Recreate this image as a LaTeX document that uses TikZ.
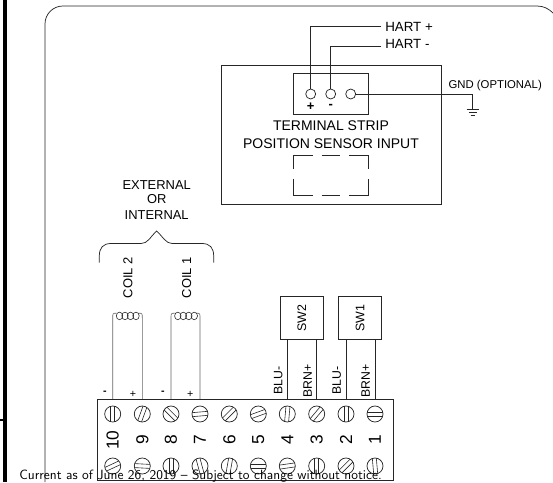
\documentclass[tikz,border=0pt]{standalone}
\usepackage{fontspec}
\setmainfont{Liberation Sans}
\tikzset{
  wire/.style={line width=.55pt,black!85},
  thin wire/.style={line width=.45pt,black!60},
  pin/.style={circle,draw,wire,minimum size=7.5pt,inner sep=0},
  screw/.style={circle,draw,wire,minimum size=12pt,inner sep=0},
  swbox/.style={draw,wire,minimum width=32pt,minimum height=32pt,inner sep=0,text=black},
  big/.style={inner sep=0,font=\fontsize{10.5}{13}\selectfont},
  mid/.style={inner sep=0,font=\fontsize{9.7}{12}\selectfont},
  small/.style={inner sep=0,font=\fontsize{9.2}{11}\selectfont},
  num/.style={inner sep=0,font=\fontsize{13}{15}\selectfont},
}
\begin{document}
\begin{tikzpicture}[x=.75pt,y=-.75pt]
  \useasboundingbox (0,0) rectangle (553,482);
  \draw[line width=2.6pt] (5,0) -- (5,482);
  \draw[line width=1.6pt] (0,420) -- (5,420);
  \draw[wire] (45,482) -- (45,24) .. controls (45,14) and (53,6) .. (63,6) -- (537,6) .. controls (544,6) and (549,9) .. (553,13);
  \node (sensor) at (331,134.5) [draw,wire,minimum width=165pt,minimum height=104.25pt] {};
  \node (tstrip) at (330.7,94) [draw,wire,minimum width=56pt,minimum height=31pt] {};
  \node (pp) at (310.7,94) [pin] {};
  \node (pm) at (330.7,94) [pin] {};
  \node (pg) at (350.7,94) [pin] {};
  \node (hp) at (385,26.5) [big,anchor=west,font=\fontsize{10}{12}\selectfont] {HART +};
  \node (hm) at (385,43.5) [big,anchor=west,font=\fontsize{10}{12}\selectfont] {HART -};
  \coordinate (hpe) at (380.7,26);
  \coordinate (hme) at (380.7,46.7);
  \coordinate (gnd) at (472.7,108.5);
  \draw[wire] (pp.north) |- (hpe);
  \draw[wire] (pm.north) |- (hme);
  \draw[wire] (pg.east) -| (gnd);
  \draw[wire] (466.7,109) -- (478.7,109) (468.7,112) -- (476.7,112) (470.7,115) -- (474.7,115);
  \node (gl) at (495.2,86) [small,font=\fontsize{8.5}{10}\selectfont] {GND (OPTIONAL)};
  \node (plus) at (310.7,107) [mid,font=\bfseries\fontsize{9.7}{12}\selectfont] {+};
  \node (minus) at (330.7,106.5) [mid,font=\bfseries\fontsize{9.7}{12}\selectfont] {-};
  \node (ts) at (331,126) [big] {TERMINAL STRIP};
  \node (pi) at (331,144) [big] {POSITION SENSOR INPUT};
  \draw[wire] (293,169) -- (293,155) -- (312.5,155) (321.5,155) -- (340,155) (349,155) -- (368,155) -- (368,169);
  \draw[wire] (293,179) -- (293,195.7) -- (312.5,195.7) (321.5,195.7) -- (340,195.7) (349,195.7) -- (368,195.7) -- (368,179);
  \node (ext) at (156.7,185) [mid] {EXTERNAL};
  \node (or) at (156.7,199.5) [mid] {OR};
  \node (int) at (156.7,215) [mid] {INTERNAL};
  \draw[wire] (99.3,262.7) -- (99.3,256) .. controls (99.3,248) and (103,243.5) .. (111,243.5) -- (141,243.5) .. controls (148,243.5) and (150,237) .. (156.7,231) .. controls (163,237) and (166,243.5) .. (172,243.5) -- (202,243.5) .. controls (210,243.5) and (213.7,248) .. (213.7,256) -- (213.7,262.7);
  \node (c2) at (128,277.7) [mid,rotate=90] {COIL 2};
  \node (c1) at (186.7,277.7) [mid,rotate=90] {COIL 1};
  \node (strip) at (245.5,439.7) [draw,wire,minimum width=221.6pt,minimum height=60.6pt] {};
  \foreach \n/\x/\a/\b in {10/112.7/90/25, 9/142.3/70/-3, 8/171/-45/90, 7/200/5/105, 6/229.3/45/80, 5/258.3/20/0, 4/287.3/85/8, 3/316.7/50/90, 2/346/90/45, 1/375/0/95}
  {
    \node (t\n) at (\x,414) [screw] {};
    \node (b\n) at (\x,466) [screw] {};
    \node (d\n) at (\x,440) [num,rotate=90] {\n};
    \draw[thin wire,black!85,shift={(t\n)},rotate=\a] (-7.7,-2) -- (7.7,-2) (-7.7,2) -- (7.7,2);
    \draw[thin wire,black!85,shift={(b\n)},rotate=\b] (-7.7,-2) -- (7.7,-2) (-7.7,2) -- (7.7,2);
  }
  \foreach \n/\l/\r in {2/t10/t9, 1/t8/t7}
  {
    \coordinate (cl\n) at ([yshift=60.75pt]\l |- strip.north);
    \coordinate (cr\n) at ([yshift=60.75pt]\r |- strip.north);
    \draw[thin wire] (\l |- strip.north) -- (cl\n) .. controls ([yshift=3.5pt]cl\n) .. ([shift={(3pt,3.6pt)}]cl\n);
    \draw[thin wire] (\r |- strip.north) -- (cr\n) .. controls ([yshift=3.5pt]cr\n) .. ([shift={(-3pt,3.6pt)}]cr\n);
    \foreach \o in {6.8,12.3,17.8,23.3}
      \draw[thin wire,black!85] ([shift={(\o*.75pt,1.5pt)}]cl\n) ellipse[x radius=3.2,y radius=3.8];
  }
  \node (mi2) at (105,393) [big,font=\bfseries\fontsize{8}{10}\selectfont] {-};
  \node (pl2) at (133,394) [big,font=\fontsize{8}{10}\selectfont] {+};
  \node (mi1) at (163,393) [big,font=\bfseries\fontsize{8}{10}\selectfont] {-};
  \node (pl1) at (190.3,394) [big,font=\fontsize{8}{10}\selectfont] {+};
  \node (swb) at (301.8,318) [swbox] {};
  \node (swa) at (360,318) [swbox] {};
  \node (swbl) at (301.8,318) [mid,rotate=90,font=\fontsize{9.3}{11}\selectfont] {SW2};
  \node (swal) at (360,318) [mid,rotate=90,font=\fontsize{9.3}{11}\selectfont] {SW1};
  \foreach \s/\l in {swb/t4, swb/t3, swa/t2, swa/t1}
    \draw[wire] (\l |- \s.south) -- (\l |- strip.north);
  \node (lb2) at (278.3,394.5) [small,rotate=90,anchor=west] {BLU-};
  \node (ln2) at (307.7,398) [small,rotate=90,anchor=west] {BRN+};
  \node (lb1) at (336.7,394.5) [small,rotate=90,anchor=west] {BLU-};
  \node (ln1) at (365.7,398) [small,rotate=90,anchor=west] {BRN+};
  \node (cur) at (19,479) [anchor=base west,inner sep=0,font=\sffamily\fontsize{10.05}{12}\selectfont] {Current as of June 26, 2019 -- Subject to change without notice.};
\end{tikzpicture}
\end{document}
